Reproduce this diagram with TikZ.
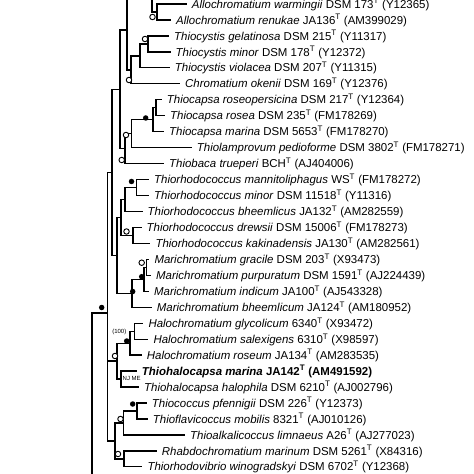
\documentclass[tikz,border=0pt]{standalone}
\usepackage{fontspec}
\setmainfont{Liberation Sans}
\newcommand{\taxon}[3]{\textit{#1} #2\textsuperscript{T} (#3)}
\begin{document}
\begin{tikzpicture}[x=1bp,y=-1bp,
  br/.style={line width=1.3bp},
  leaf/.style={anchor=west,inner xsep=5bp,inner ysep=0pt,text height=8.3bp,text depth=0pt,font=\fontsize{11.5}{13}\selectfont},
  opn/.style={circle,draw,fill=white,inner sep=0pt,minimum size=5.5bp,line width=0.9bp},
  fil/.style={circle,fill=black,inner sep=0pt,minimum size=5.5bp},
  sml/.style={font=\fontsize{6}{7}\selectfont,inner sep=0pt}]
\useasboundingbox (0,0) rectangle (474,474);
\fill[white] (0,0) rectangle (474,474);
\clip (0,0) rectangle (474,474);
% leaves
\node[leaf] (l1) at (186.7,4.0) {\taxon{Allochromatium warmingii}{DSM 173}{Y12365}};
\node[leaf] (l2) at (171,20.0) {\taxon{Allochromatium renukae}{JA136}{AM399029}};
\node[leaf] (l3) at (169,35.9) {\taxon{Thiocystis gelatinosa}{DSM 215}{Y11317}};
\node[leaf] (l4) at (170.5,51.9) {\taxon{Thiocystis minor}{DSM 178}{Y12372}};
\node[leaf] (l5) at (169.7,67.8) {\taxon{Thiocystis violacea}{DSM 207}{Y11315}};
\node[leaf] (l6) at (180,83.8) {\taxon{Chromatium okenii}{DSM 169}{Y12376}};
\node[leaf] (l7) at (161.7,99.8) {\taxon{Thiocapsa roseopersicina}{DSM 217}{Y12364}};
\node[leaf] (l8) at (165,115.7) {\taxon{Thiocapsa rosea}{DSM 235}{FM178269}};
\node[leaf] (l9) at (164,131.7) {\taxon{Thiocapsa marina}{DSM 5653}{FM178270}};
\node[leaf] (l10) at (191.7,147.6) {\taxon{Thiolamprovum pedioforme}{DSM 3802}{FM178271}};
\node[leaf] (l11) at (164,163.6) {\taxon{Thiobaca trueperi}{BCH}{AJ404006}};
\node[leaf] (l12) at (149,179.6) {\taxon{Thiorhodococcus mannitoliphagus}{WS}{FM178272}};
\node[leaf] (l13) at (149,195.5) {\taxon{Thiorhodococcus minor}{DSM 11518}{Y11316}};
\node[leaf] (l14) at (142.5,211.5) {\taxon{Thiorhodococcus bheemlicus}{JA132}{AM282559}};
\node[leaf] (l15) at (141.5,227.4) {\taxon{Thiorhodococcus drewsii}{DSM 15006}{FM178273}};
\node[leaf] (l16) at (150.3,243.4) {\taxon{Thiorhodococcus kakinadensis}{JA130}{AM282561}};
\node[leaf] (l17) at (149.3,259.4) {\taxon{Marichromatium gracile}{DSM 203}{X93473}};
\node[leaf] (l18) at (151,275.3) {\taxon{Marichromatium purpuratum}{DSM 1591}{AJ224439}};
\node[leaf] (l19) at (149,291.3) {\taxon{Marichromatium indicum}{JA100}{AJ543328}};
\node[leaf] (l20) at (151.7,307.2) {\taxon{Marichromatium bheemlicum}{JA124}{AM180952}};
\node[leaf] (l21) at (143.3,323.2) {\taxon{Halochromatium glycolicum}{6340}{X93472}};
\node[leaf] (l22) at (148.3,339.2) {\taxon{Halochromatium salexigens}{6310}{X98597}};
\node[leaf] (l23) at (141.7,355.1) {\taxon{Halochromatium roseum}{JA134}{AM283535}};
\node[leaf] (l24) at (136.7,371.1) {\textbf{\taxon{Thiohalocapsa marina}{JA142}{AM491592}}};
\node[leaf] (l25) at (139,387.0) {\taxon{Thiohalocapsa halophila}{DSM 6210}{AJ002796}};
\node[leaf] (l26) at (146.7,403.0) {\taxon{Thiococcus pfennigii}{DSM 226}{Y12373}};
\node[leaf] (l27) at (147.7,419.0) {\taxon{Thioflavicoccus mobilis}{8321}{AJ010126}};
\node[leaf] (l28) at (185,434.9) {\taxon{Thioalkalicoccus limnaeus}{A26}{AJ277023}};
\node[leaf] (l29) at (156.7,450.9) {\taxon{Rhabdochromatium marinum}{DSM 5261}{X84316}};
\node[leaf] (l30) at (142.3,466.8) {\taxon{Thiorhodovibrio winogradskyi}{DSM 6702}{Y12368}};
% internal nodes
\coordinate (Atop) at (152,-40);
\coordinate (A) at (152,-10);
\coordinate (B) at (157,12);
\coordinate (P) at (127,30);
\coordinate (Q) at (131,69.9);
\coordinate (R) at (140,55.9);
\coordinate (S) at (148,43.9);
\coordinate (N1) at (120,89.3);
\coordinate (X) at (125,148.6);
\coordinate (W) at (131.7,133.7);
\coordinate (U) at (153,119.7);
\coordinate (V) at (156,107.7);
\coordinate (M) at (112,172.4);
\coordinate (K) at (117,255.4);
\coordinate (Z3) at (121,217.5);
\coordinate (Z2) at (125,199.5);
\coordinate (Z1) at (136.5,187.6);
\coordinate (Z4) at (133,235.4);
\coordinate (M3) at (132,293.3);
\coordinate (M2) at (144,279.3);
\coordinate (M1) at (146.5,267.4);
\coordinate (Y) at (107.5,313);
\coordinate (H3) at (117,361);
\coordinate (H2) at (130,343.2);
\coordinate (H1) at (134.5,331.2);
\coordinate (T1) at (121,379);
\coordinate (C4) at (115,441);
\coordinate (C2) at (123.3,423);
\coordinate (C1) at (137,411);
\coordinate (C3) at (124,458.9);
\coordinate (R0) at (92,400);
\coordinate (R0b) at (92,490);
% branches
\begin{scope}[br]
\draw (A) -- (Atop);
\draw (A) |- (B);
\draw (B) |- (l1.west); \draw (B) |- (l2.west);
\draw (P) |- (A); \draw (P) |- (Q);
\draw (Q) |- (R); \draw (Q) |- (l6.west);
\draw (R) |- (S); \draw (R) |- (l5.west);
\draw (S) |- (l3.west); \draw (S) |- (l4.west);
\draw (N1) |- (P); \draw (N1) |- (X);
\draw (X) |- (W); \draw (X) |- (l11.west);
\draw (W) |- (U); \draw (W) |- (l10.west);
\draw (U) |- (V); \draw (U) |- (l9.west);
\draw (V) |- (l7.west); \draw (V) |- (l8.west);
\draw (M) |- (N1); \draw (M) |- (K);
\draw (K) |- (Z3); \draw (K) |- (M3);
\draw (Z3) |- (Z2); \draw (Z3) |- (Z4);
\draw (Z2) |- (Z1); \draw (Z2) |- (l14.west);
\draw (Z1) |- (l12.west); \draw (Z1) |- (l13.west);
\draw (Z4) |- (l15.west); \draw (Z4) |- (l16.west);
\draw (M3) |- (M2); \draw (M3) |- (l20.west);
\draw (M2) |- (M1); \draw (M2) |- (l19.west);
\draw (M1) |- (l17.west); \draw (M1) |- (l18.west);
\draw (Y) |- (M); \draw (Y) |- (H3); \draw (Y) |- (C4);
\draw (H3) |- (H2); \draw (H3) |- (T1);
\draw (H2) |- (H1); \draw (H2) |- (l23.west);
\draw (H1) |- (l21.west); \draw (H1) |- (l22.west);
\draw (T1) |- (l24.west); \draw (T1) |- (l25.west);
\draw (C4) |- (C2); \draw (C4) |- (C3);
\draw (C2) |- (C1); \draw (C2) |- (l28.west);
\draw (C1) |- (l26.west); \draw (C1) |- (l27.west);
\draw (C3) |- (l29.west); \draw (C3) |- (l30.west);
\draw (R0) |- (Y); \draw (R0) -- (R0b);
\end{scope}
% support markers
\node[opn] (sB) at (152.5,17) {};
\node[opn] (sS) at (145,39) {};
\node[opn] (sQ) at (129,80) {};
\node[fil] (sU) at (145.7,118) {};
\node[opn] (sW) at (126,135) {};
\node[opn] (sX) at (121.7,160) {};
\node[fil] (sZ1) at (131.5,181.5) {};
\node[opn] (sZ4) at (126.5,231.5) {};
\node[opn] (sM1) at (141.7,262.7) {};
\node[fil] (sM2) at (141.7,276.7) {};
\node[fil] (sM3) at (132.7,291.5) {};
\node[fil] (sY) at (101.7,307.5) {};
\node[fil] (sH2) at (126.7,341) {};
\node[opn] (sH3) at (115,356) {};
\node[fil] (sC1) at (132.7,404) {};
\node[opn] (sC2) at (120.5,419) {};
\node[opn] (sC3) at (118,454) {};
% small labels
\node[sml,anchor=east] (b100) at (126.5,332) {(100)};
\node[sml,anchor=west] (njme) at (122.5,378.5) {NJ ME};
\end{tikzpicture}
\end{document}
